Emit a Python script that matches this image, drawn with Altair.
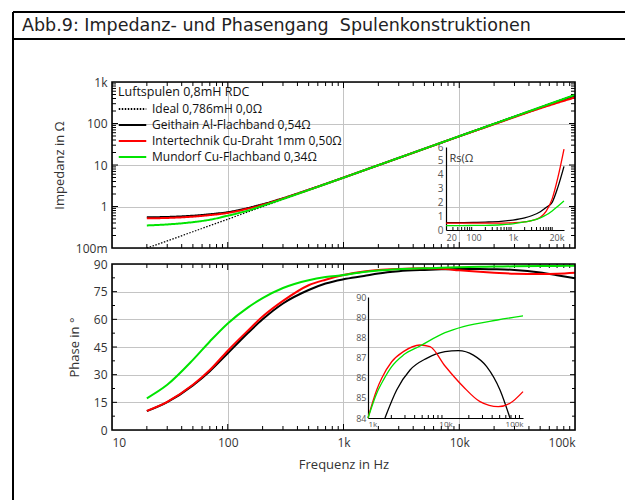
import altair as alt
import pandas as pd

TITLE = "Abb.9: Impedanz- und Phasengang\u00a0 Spulenkonstruktionen"
LEGEND_TITLE = "Luftspulen 0,8mH RDC"
SERIES = ["Ideal 0,786mH 0,0Ω", "Geithain Al-Flachband 0,54Ω",
          "Intertechnik Cu-Draht 1mm 0,50Ω", "Mundorf Cu-Flachband 0,34Ω"]
COLORS = ["#000000", "#000000", "#ff0000", "#00e400"]
DASHES = [[1.5, 1.5], [1, 0], [1, 0], [1, 0]]

# --- impedance |Z| in Ohm ---
z_freq = [20, 30, 50, 70, 100, 150, 200, 300, 500, 700, 1000, 2000, 5000, 10000, 20000, 50000, 100000]
z_ideal = [0.1, 0.148, 0.247, 0.346, 0.494, 0.741, 0.988, 1.48, 2.47, 3.46, 4.94, 9.88, 24.7, 49.4, 98.8, 247, 494]
z_geit = [0.55, 0.56, 0.6, 0.65, 0.73, 0.92, 1.13, 1.58, 2.53, 3.5, 4.97, 9.9, 24.7, 49.3, 98, 240, 470]
z_inter = [0.52, 0.53, 0.57, 0.62, 0.7, 0.89, 1.1, 1.56, 2.52, 3.49, 4.96, 9.88, 24.6, 49.0, 96, 232, 425]
z_mund = [0.35, 0.37, 0.42, 0.48, 0.6, 0.8, 1.04, 1.52, 2.49, 3.48, 4.95, 9.9, 24.7, 49.4, 98.5, 246, 490]

# --- Rs inset (Ohm) ---
rs_freq = [20, 50, 100, 200, 500, 1000, 2000, 3000, 5000, 7000, 10000, 14000, 20000]
rs_geit = [0.54, 0.54, 0.55, 0.57, 0.62, 0.72, 0.88, 1.03, 1.32, 1.62, 2.0, 3.1, 4.6]
rs_inter = [0.5, 0.5, 0.5, 0.5, 0.5, 0.52, 0.58, 0.68, 0.92, 1.35, 2.25, 3.8, 5.85]
rs_mund = [0.32, 0.32, 0.33, 0.34, 0.38, 0.45, 0.58, 0.68, 0.88, 1.08, 1.38, 1.72, 2.1]

# --- phase in degrees ---
p_freq = [20, 30, 50, 70, 100, 150, 200, 300, 500, 700, 1000, 1500, 2000, 3000, 5000, 7000,
          10000, 15000, 20000, 30000, 50000, 70000, 100000]
p_geit = [10.2, 15.1, 24.2, 31.9, 41.6, 52.7, 60.0, 68.6, 75.9, 79.4, 81.7, 83.5, 84.9, 86.1, 86.8, 87.1,
          87.3, 87.34, 87.2, 86.8, 85.4, 83.9, 82.3]
p_inter = [10.4, 15.3, 24.5, 32.5, 43.0, 54.0, 61.5, 70.0, 78.5, 81.5, 84.0, 85.95, 86.75, 87.33, 87.63, 87.45,
           86.55, 85.75, 85.3, 84.75, 84.56, 84.75, 85.3]
p_mund = [17.2, 24.5, 38.0, 48.0, 57.8, 66.5, 71.5, 77.0, 81.2, 82.9, 84.0, 85.7, 86.5, 87.2, 87.65, 87.95,
          88.23, 88.45, 88.58, 88.75, 88.88, 88.98, 89.06]

# --- phase detail inset (84..90 deg) ---
i2_geit_f = [1655, 2344, 3485, 5715, 9860, 14650, 22870, 34000, 50500, 67900]
i2_geit_p = [84.0, 85.39, 86.38, 86.96, 87.29, 87.34, 87.12, 86.55, 85.39, 84.0]
i2_inter_f = [1000, 1294, 1503, 2022, 2858, 4690, 6310, 9860, 17000, 27900, 48000, 67900, 100000]
i2_inter_p = [84.0, 85.39, 85.97, 86.79, 87.29, 87.62, 87.54, 86.58, 85.55, 84.81, 84.56, 84.73, 85.31]
i2_mund_f = [1000, 1294, 1578, 2022, 2858, 4690, 9860, 17000, 46900, 100000]
i2_mund_p = [84.0, 85.22, 85.88, 86.55, 87.12, 87.57, 88.23, 88.53, 88.86, 89.06]

# --- tick values ---
X_DECADES = [10, 100, 1000, 10000, 100000]
X_MINOR = [m * 10 ** e for e in range(1, 5) for m in range(2, 10)]
Z_DECADES = [0.1, 1, 10, 100, 1000]
Z_MINOR = [round(m * 10.0 ** e, 3) for e in range(-1, 3) for m in range(2, 10)]
PH_MAJOR = [0, 15, 30, 45, 60, 75, 90]
PH_MINOR = [7.5, 22.5, 37.5, 52.5, 67.5, 82.5]
RS_X_LABELS = [20, 100, 1000, 20000]
RS_X_MINOR = [30, 40, 50, 60, 70, 80, 90, 200, 300, 400, 500, 600, 700, 800, 900,
              2000, 3000, 4000, 5000, 6000, 7000, 8000, 9000, 10000]
RS_Y = [0, 1, 2, 3, 4, 5, 6]
I2_X_LABELS = [1000, 10000, 100000]
I2_X_MINOR = [2000, 3000, 4000, 5000, 6000, 7000, 8000, 9000,
              20000, 30000, 40000, 50000, 60000, 70000, 80000, 90000]
I2_Y = [84, 85, 86, 87, 88, 89, 90]

# --- layout (pixels inside the plot group) ---
W, H = 463, 348
TOP_H = 166
BOT_TOP = 182
GRID = "#c4c4c4"
FONT = "Open Sans"
FMT = ("datum.value >= 1000 ? format(datum.value / 1000, 'd') + 'k' : "
       "(datum.value < 1 ? format(datum.value * 1000, 'd') + 'm' : format(datum.value, 'd'))")

SC_X = alt.Scale(type="log", domain=[10, 100000], nice=False)
SC_Z = alt.Scale(type="log", domain=[0.1, 1000], range=[TOP_H, 0], nice=False)
SC_P = alt.Scale(domain=[0, 90], range=[H, BOT_TOP], nice=False, zero=False)
SC_RX = alt.Scale(type="log", domain=[20, 20000], range=[334, 452], nice=False)
SC_RY = alt.Scale(domain=[0, 6], range=[148, 65], nice=False, zero=False)
SC_IX = alt.Scale(type="log", domain=[1000, 100000], range=[256, 411], nice=False)
SC_IY = alt.Scale(domain=[84, 90], range=[336, 215], nice=False, zero=False)

AX_TOP_X = alt.Axis(orient="bottom", values=X_DECADES, grid=True, gridColor=GRID, labels=False,
                    ticks=False, domain=False, title=None)
AX_TOP_Y = alt.Axis(orient="left", values=Z_DECADES, grid=True, gridColor=GRID, labelExpr=FMT,
                    ticks=False, domain=False, labelPadding=5, title="Impedanz in Ω", titlePadding=9)
AX_BOT_X = alt.Axis(orient="bottom", values=X_DECADES, grid=True, gridColor=GRID, labelExpr=FMT,
                    ticks=False, domain=False, labelPadding=7, title="Frequenz in Hz", titlePadding=10)
AX_BOT_Y = alt.Axis(orient="left", values=PH_MAJOR, grid=True, gridColor=GRID, ticks=False,
                    domain=False, labelPadding=5, title="Phase in °", titlePadding=12)
AX_RX = alt.Axis(orient="bottom", offset=-(H - 148), values=RS_X_LABELS, labelExpr=FMT, grid=False,
                 ticks=False, domain=True, domainColor="black", domainWidth=1.2, labelFontSize=9,
                 labelColor="#555", labelPadding=3, title=None)
AX_RY = alt.Axis(orient="left", offset=-334, values=RS_Y, grid=False, ticks=False, domain=True,
                 domainColor="black", domainWidth=1.2, labelFontSize=10, labelColor="#555",
                 labelPadding=3, title="Rs(Ω", titleAngle=0, titleX=3, titleY=76, titleAlign="left",
                 titleBaseline="middle", titleFontSize=11, titleColor="#333")
AX_IX = alt.Axis(orient="bottom", offset=-(H - 336), values=I2_X_LABELS, labelExpr=FMT, grid=False,
                 ticks=False, domain=True, domainColor="black", domainWidth=1.2, labelFontSize=8,
                 labelColor="#555", labelPadding=2, title=None)
AX_IY = alt.Axis(orient="left", offset=-256, values=I2_Y, grid=False, ticks=False, domain=True,
                 domainColor="black", domainWidth=1.2, labelFontSize=9, labelColor="#555",
                 labelPadding=2, title=None)

X_TOP = alt.X("f:Q", scale=SC_X, axis=AX_TOP_X)
Y_TOP = alt.Y("v:Q", scale=SC_Z, axis=AX_TOP_Y)
X_BOT = alt.X("f:Q", scale=SC_X, axis=AX_BOT_X)
Y_BOT = alt.Y("v:Q", scale=SC_P, axis=AX_BOT_Y)
X_RS = alt.X("f:Q", scale=SC_RX, axis=AX_RX)
Y_RS = alt.Y("v:Q", scale=SC_RY, axis=AX_RY)
X_I2 = alt.X("f:Q", scale=SC_IX, axis=AX_IX)
Y_I2 = alt.Y("v:Q", scale=SC_IY, axis=AX_IY)

LEG = alt.Legend(orient="none", legendX=6, legendY=4, title=LEGEND_TITLE, titleFontSize=12.5,
                 titleFontWeight="normal", titleColor="#111", titleFont=FONT, titlePadding=4,
                 titleLimit=400, labelLimit=400,
                 labelFontSize=12, labelColor="#111", labelFont=FONT,
                 symbolType="M-2.5,0H2.5", symbolSize=121, symbolStrokeWidth=2,
                 symbolOffset=8, labelOffset=13, rowPadding=3, padding=0)


def ticks_x(vals, X, edge, length, sign):
    return alt.Chart(pd.DataFrame({"f": vals})).mark_rule(color="black", strokeWidth=1).encode(
        x=X, y=alt.value(edge), y2=alt.value(edge + sign * length))


def ticks_y(vals, Y, edge, length, sign):
    return alt.Chart(pd.DataFrame({"v": vals})).mark_rule(color="black", strokeWidth=1).encode(
        y=Y, x=alt.value(edge), x2=alt.value(edge + sign * length))


def top_line(freq, vals, idx, width):
    df = pd.DataFrame({"f": freq, "v": vals, "series": SERIES[idx]})
    return alt.Chart(df).mark_line(strokeWidth=width, interpolate="monotone").encode(
        x=X_TOP, y=Y_TOP,
        color=alt.Color("series:N", scale=alt.Scale(domain=SERIES, range=COLORS), legend=LEG),
        strokeDash=alt.StrokeDash("series:N", scale=alt.Scale(domain=SERIES, range=DASHES), legend=LEG))


def plain_line(freq, vals, X, Y, color, width):
    df = pd.DataFrame({"f": freq, "v": vals})
    return alt.Chart(df).mark_line(color=color, strokeWidth=width, interpolate="monotone").encode(x=X, y=Y)


top = alt.layer(
    ticks_x(X_MINOR, X_TOP, TOP_H, 4, -1), ticks_x(X_DECADES[1:-1], X_TOP, TOP_H, 6, -1),
    ticks_x(X_MINOR, X_TOP, 0, 4, 1), ticks_x(X_DECADES[1:-1], X_TOP, 0, 6, 1),
    ticks_y(Z_MINOR, Y_TOP, 0, 4, 1), ticks_y(Z_DECADES[1:-1], Y_TOP, 0, 6, 1),
    ticks_y(Z_MINOR, Y_TOP, W, 4, -1), ticks_y(Z_DECADES[1:-1], Y_TOP, W, 6, -1),
    top_line(z_freq, z_ideal, 0, 1.2),
    top_line(z_freq, z_geit, 1, 2),
    top_line(z_freq, z_inter, 2, 2),
    top_line(z_freq, z_mund, 3, 2),
)

bottom = alt.layer(
    ticks_x(X_MINOR, X_BOT, H, 4, -1), ticks_x(X_DECADES[1:-1], X_BOT, H, 6, -1),
    ticks_x(X_MINOR, X_BOT, BOT_TOP, 4, 1), ticks_x(X_DECADES[1:-1], X_BOT, BOT_TOP, 6, 1),
    ticks_y(PH_MINOR, Y_BOT, 0, 3, 1), ticks_y(PH_MAJOR[1:-1], Y_BOT, 0, 5, 1),
    ticks_y(PH_MINOR, Y_BOT, W, 3, -1), ticks_y(PH_MAJOR[1:-1], Y_BOT, W, 5, -1),
    plain_line(p_freq, p_geit, X_BOT, Y_BOT, COLORS[1], 2),
    plain_line(p_freq, p_inter, X_BOT, Y_BOT, COLORS[2], 2),
    plain_line(p_freq, p_mund, X_BOT, Y_BOT, COLORS[3], 2),
)

inset_rs = alt.layer(
    ticks_x(RS_X_MINOR, X_RS, 148, 3, -1),
    plain_line(rs_freq, rs_geit, X_RS, Y_RS, COLORS[1], 1.3),
    plain_line(rs_freq, rs_inter, X_RS, Y_RS, COLORS[2], 1.3),
    plain_line(rs_freq, rs_mund, X_RS, Y_RS, COLORS[3], 1.3),
)

inset_ph = alt.layer(
    ticks_x(I2_X_MINOR, X_I2, 336, 3, -1),
    plain_line(i2_geit_f, i2_geit_p, X_I2, Y_I2, COLORS[1], 1.3),
    plain_line(i2_inter_f, i2_inter_p, X_I2, Y_I2, COLORS[2], 1.3),
    plain_line(i2_mund_f, i2_mund_p, X_I2, Y_I2, COLORS[3], 1.3),
)

DECO = pd.DataFrame({"k": [0]})
frame_top = alt.Chart(DECO).mark_rect(filled=False, stroke="black", strokeWidth=1.6).encode(
    x=alt.value(0), x2=alt.value(W), y=alt.value(0), y2=alt.value(TOP_H))
frame_bot = alt.Chart(DECO).mark_rect(filled=False, stroke="black", strokeWidth=1.6).encode(
    x=alt.value(0), x2=alt.value(W), y=alt.value(BOT_TOP), y2=alt.value(H))
box_left = alt.Chart(DECO).mark_rule(color="black", strokeWidth=2).encode(
    x=alt.value(-99), y=alt.value(-70), y2=alt.value(420))
box_top = alt.Chart(DECO).mark_rule(color="black", strokeWidth=2).encode(
    y=alt.value(-70), x=alt.value(-99), x2=alt.value(515))
box_mid = alt.Chart(DECO).mark_rule(color="black", strokeWidth=2).encode(
    y=alt.value(-43), x=alt.value(-99), x2=alt.value(515))
title = alt.Chart(DECO).mark_text(text=TITLE, align="left", baseline="alphabetic", font="DejaVu Sans",
                                  fontSize=17.5, color="#222").encode(x=alt.value(-90), y=alt.value(-51))

chart = alt.layer(top, bottom, inset_rs, inset_ph, frame_top, frame_bot,
                  box_left, box_top, box_mid, title).resolve_scale(
    x="independent", y="independent"
).properties(
    width=W, height=H,
    padding={"left": 112, "top": 82, "right": 50, "bottom": 70},
    autosize=alt.AutoSizeParams(type="none"),
    background="white",
).configure_view(stroke=None).configure_axis(
    labelFont=FONT, titleFont=FONT, labelFontSize=12, titleFontSize=13, titleFontWeight="normal",
    labelColor="#333", titleColor="#333", gridColor=GRID, gridWidth=1,
)

chart.save("out.html", embed_options={"renderer": "svg", "actions": False})
